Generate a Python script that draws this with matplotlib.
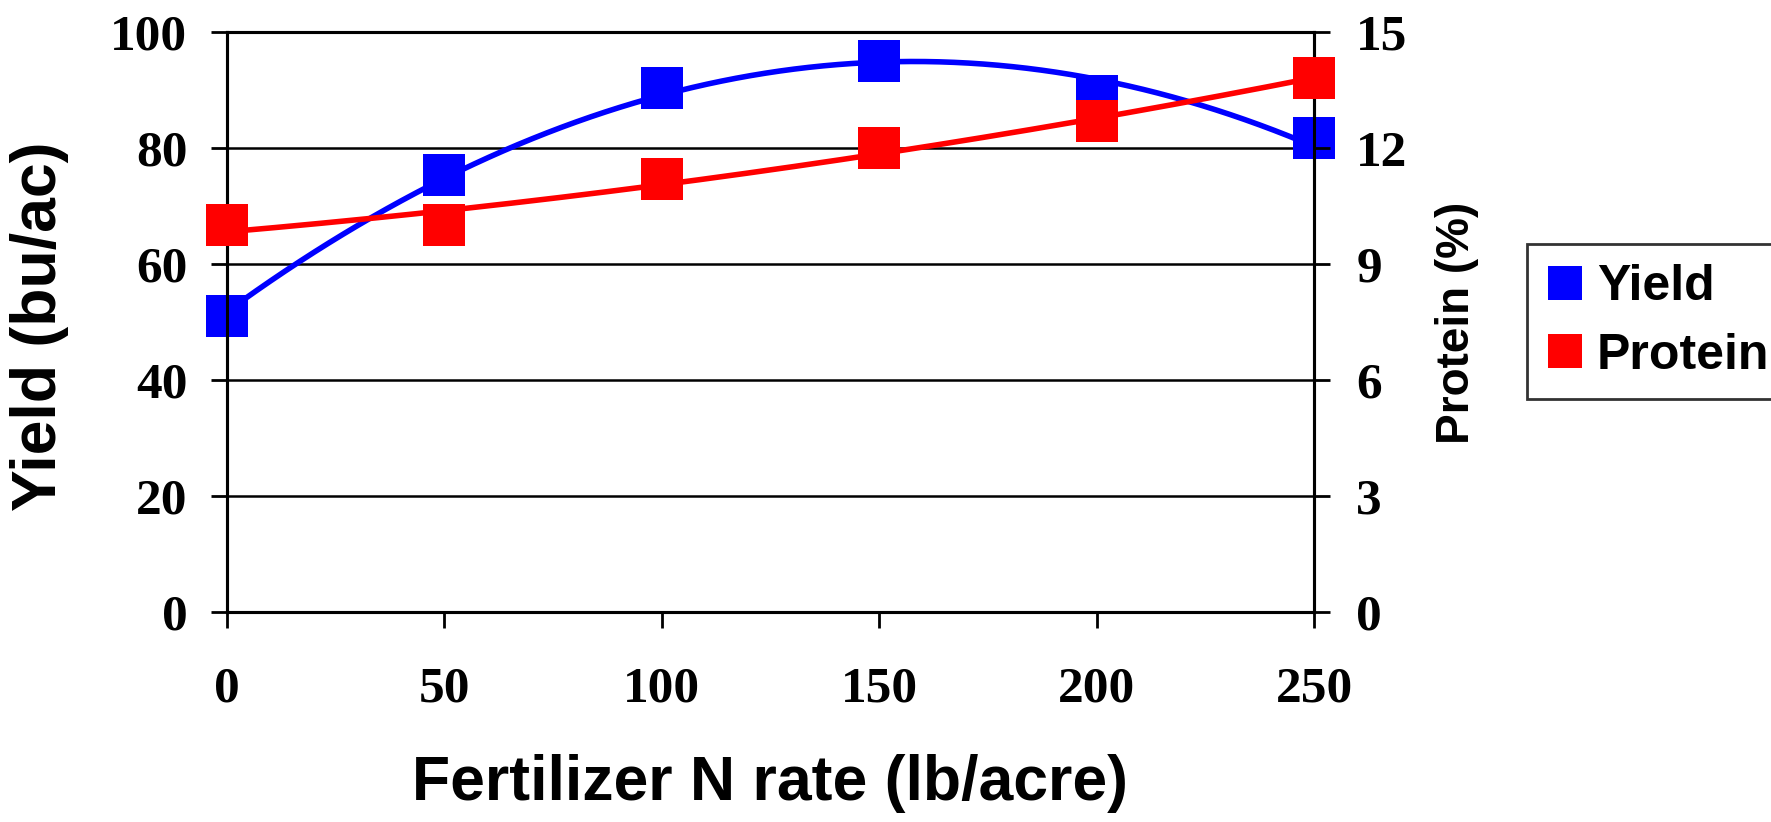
import numpy as np
import matplotlib
matplotlib.use("Agg")
import matplotlib.pyplot as plt
from matplotlib.lines import Line2D

# N rate trial: grain yield and protein
n_rate = [0, 50, 100, 150, 200, 250]
yield_bu = [51.0, 75.4, 90.4, 95.0, 89.0, 81.8]
protein_pct = [10.0, 10.0, 11.2, 12.0, 12.7, 13.8]

x_ticks = [0, 50, 100, 150, 200, 250]
yield_ticks = [0, 20, 40, 60, 80, 100]
protein_ticks = [0, 3, 6, 9, 12, 15]

BLUE = "#0000FF"
RED = "#FF0000"
sans = "Liberation Sans"

fig = plt.figure(figsize=(17.71, 8.22), dpi=100)
ax = fig.add_axes([227 / 1771, 1 - 612 / 822, (1314 - 227) / 1771, (612 - 32) / 822])
ax2 = ax.twinx()

ax.set_xlim(0, 250)
ax.set_ylim(0, 100)
ax2.set_ylim(0, 15)

# horizontal gridlines
ax.set_yticks(yield_ticks)
ax.yaxis.grid(True, color="black", linewidth=1.8)
ax.set_axisbelow(True)
ax.set_xticks(x_ticks)
ax2.set_yticks(protein_ticks)

for a in (ax, ax2):
    for s in a.spines.values():
        s.set_linewidth(2.2)
        s.set_color("black")

ax.tick_params(axis="y", direction="out", length=11.5, width=2.0, pad=17)
ax.tick_params(axis="x", direction="out", length=11.5, width=2.0, pad=28)
ax2.tick_params(axis="y", direction="out", length=11.5, width=2.0, pad=19)
for lab in ax.get_xticklabels() + ax.get_yticklabels() + ax2.get_yticklabels():
    lab.set_fontfamily("Liberation Serif")
    lab.set_fontweight("bold")
    lab.set_fontsize(37)

# quadratic trend lines fitted to the observations
xs = np.linspace(0, 250, 300)
yfit = np.polyval(np.polyfit(n_rate, yield_bu, 2), xs)
pfit = np.polyval(np.polyfit(n_rate, protein_pct, 2), xs)

ax.plot(xs, yfit, color=BLUE, linewidth=4.0, solid_capstyle="butt", clip_on=False, zorder=3)
ax.plot(n_rate, yield_bu, linestyle="none", marker="s", markersize=30,
        color=BLUE, markeredgewidth=0, clip_on=False, zorder=4)
ax2.plot(xs, pfit, color=RED, linewidth=4.0, solid_capstyle="butt", clip_on=False, zorder=3)
ax2.plot(n_rate, protein_pct, linestyle="none", marker="s", markersize=30,
         color=RED, markeredgewidth=0, clip_on=False, zorder=4)

fig.text(40 / 1771, 1 - 326 / 822, "Yield (bu/ac)", rotation=90, ha="center", va="center",
         family=sans, weight="bold", fontsize=45)
fig.text(1457 / 1771, 1 - 323 / 822, "Protein (%)", rotation=90, ha="center", va="center",
         family=sans, weight="bold", fontsize=33)
fig.text(770 / 1771, 1 - 783 / 822, "Fertilizer N rate (lb/acre)", ha="center", va="center",
         family=sans, weight="bold", fontsize=45)

handles = [
    Line2D([], [], linestyle="none", marker="s", markersize=25, color=BLUE, markeredgewidth=0),
    Line2D([], [], linestyle="none", marker="s", markersize=25, color=RED, markeredgewidth=0),
]
leg = fig.legend(handles, ["Yield", "Protein"], loc="upper left",
                 bbox_to_anchor=(1527 / 1771, 1 - 244 / 822), borderaxespad=0,
                 prop={"family": sans, "weight": "bold", "size": 36},
                 frameon=True, fancybox=False, edgecolor="black",
                 handlelength=0.7, handletextpad=0.3, borderpad=0.4, labelspacing=0.45)
leg.get_frame().set_linewidth(2.0)

fig.savefig("out.png", dpi=100)
